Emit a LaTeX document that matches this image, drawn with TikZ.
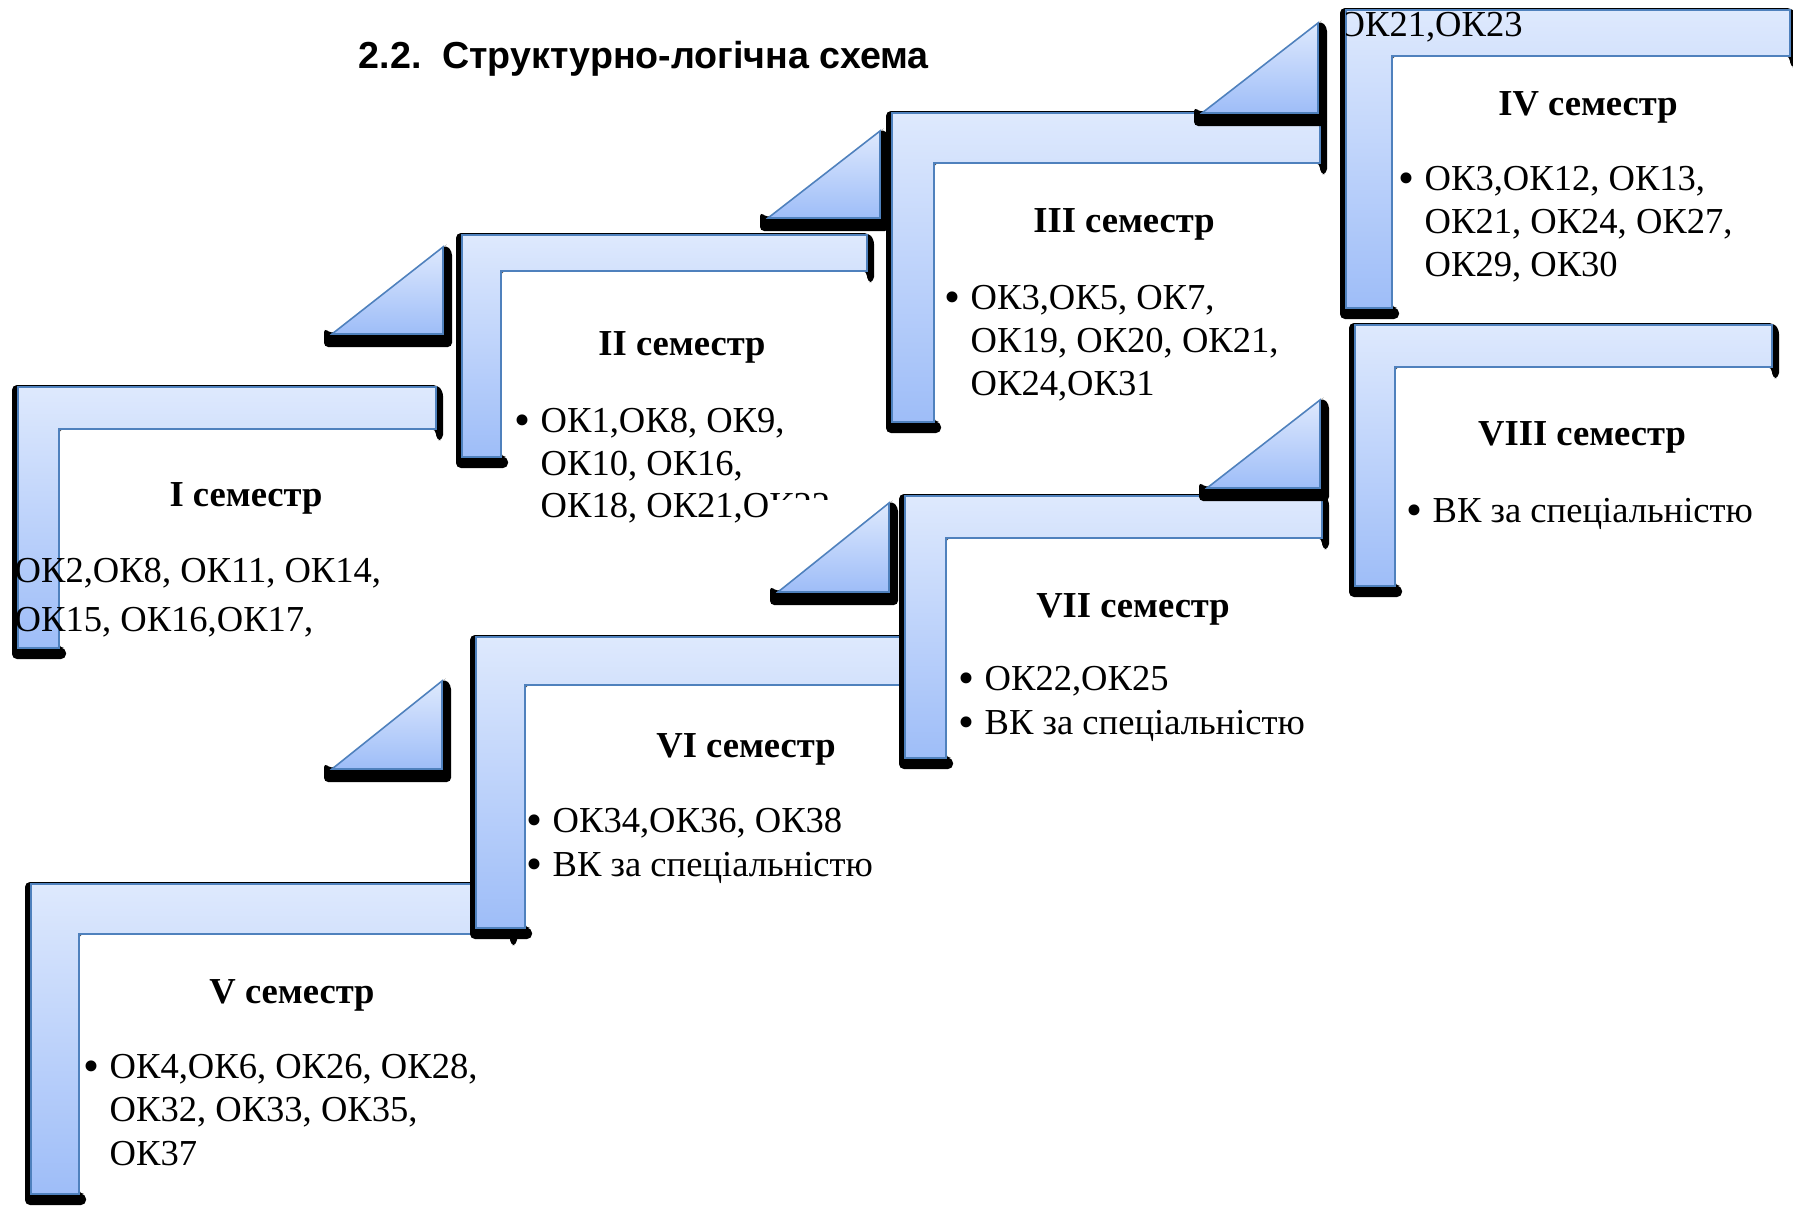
\documentclass[tikz,border=0pt]{standalone}
\usepackage{fontspec}
\usepackage{graphicx}
\setmainfont{Liberation Serif}
\newfontfamily\headfont{Liberation Sans}
\definecolor{ltop}{RGB}{222,233,253}
\definecolor{lbot}{RGB}{158,189,248}
\definecolor{edge}{RGB}{79,129,189}
\newcommand{\bodysize}{\fontsize{10.4pt}{12.3pt}\selectfont}
\newcommand{\bul}{\makebox[7.4pt][l]{\raisebox{-1.1pt}{\scalebox{1.25}{•}}}}
% L-shaped step: xl yt xr xi yi yb (pixel units, y down)
\newcommand{\stepshape}[6]{%
  \fill[black, rounded corners=1.4pt] ({#1-6},{#2-2}) -- ({#3+1},{#2-2}) -- ({#3+7},{#2+4}) -- ({#3+7},{#5+11}) -- (#3,{#5+11}) -- (#3,#5) -- (#4,#5) -- (#4,#6) -- ({#4+7},#6) -- ({#4+7},{#6+11}) -- ({#1-6},{#6+11}) -- cycle;
  \shadedraw[top color=ltop, bottom color=lbot, draw=edge, line width=0.45pt] (#1,#2) -- (#3,#2) -- (#3,#5) -- (#4,#5) -- (#4,#6) -- (#1,#6) -- cycle;
}
% triangle: xb yb (bottom-left)  xt yt (top-right)
\newcommand{\trishape}[4]{%
  \fill[black, rounded corners=1.2pt] ({#1-8},{#2-6}) -- (#1,#2) -- (#3,#4) -- ({#3+3},{#4-2}) -- ({#3+9},{#4+4}) -- ({#3+9},{#2+13}) -- ({#1-8},{#2+13}) -- cycle;
  \shadedraw[top color=ltop, bottom color=lbot, draw=edge, line width=0.45pt] (#1,#2) -- (#3,#4) -- (#3,#2) -- cycle;
}
\tikzset{
  txt/.style={inner sep=0pt, anchor=base west, font=\bodysize},
  ttl/.style={inner sep=0pt, anchor=base, font=\bodysize\bfseries},
}
\begin{document}
\begin{tikzpicture}[x=0.01cm,y=-0.01cm]
\useasboundingbox (0,0) rectangle (1793,1206);
\fill[white] (0,0) rectangle (1793,1206);

\node[inner sep=0pt, anchor=base west, font=\headfont\bfseries\fontsize{10.7pt}{13pt}\selectfont] (head) at (358,68) {2.2.~~Структурно-логічна схема};

% I semester
\stepshape{18}{387}{436}{59}{429}{648}
\trishape{332}{334}{443}{247}
\node[ttl] (s1) at (246,506) {I семестр};
\begin{scope}
\clip (17,540) rectangle (420,650);
\node[txt] (s1a) at (14,582) {ОК2,ОК8, ОК11, ОК14,};
\node[txt] (s1b) at (14,631) {ОК15, ОК16,ОК17,};
\end{scope}

% II semester
\stepshape{462}{235}{867}{501}{271}{457}
\trishape{768}{218}{880}{131}
\node[ttl] (s2) at (682,355) {II семестр};
\node[txt] (s2a) at (514,432) {\bul ОК1,ОК8, ОК9,};
\node[txt] (s2b) at (540,475) {ОК10, ОК16,};
\node[txt] (s2c) at (540,517) {ОК18, ОК21,ОК22};

% III semester
\stepshape{892}{113}{1320}{934}{163}{422}
\trishape{1202}{113}{1318}{23}
\node[ttl] (s3) at (1124,232) {III семестр};
\node[txt] (s3a) at (944,309) {\bul ОК3,ОК5, ОК7,};
\node[txt] (s3b) at (970,352) {ОК19, ОК20, ОК21,};
\node[txt] (s3c) at (970,395) {ОК24,ОК31};

% IV semester
\stepshape{1346}{10}{1790}{1392}{56}{308}
\node[ttl] (s4) at (1588,115) {IV семестр};
\node[txt] (s4a) at (1398,190) {\bul ОК3,ОК12, ОК13,};
\node[txt] (s4b) at (1424,233) {ОК21, ОК24, ОК27,};
\node[txt] (s4c) at (1424,276) {ОК29, ОК30};
\begin{scope}
\clip (1346,0) rectangle (1793,60);
\node[txt] (s4o) at (1338,36) {ОК21,ОК23};
\end{scope}

% V semester
\stepshape{31}{884}{510}{79}{934}{1194}
\node[ttl] (s5) at (292,1003) {V семестр};
\node[txt] (s5a) at (83,1078) {\bul ОК4,ОК6, ОК26, ОК28,};
\node[txt] (s5b) at (109,1121) {ОК32, ОК33, ОК35,};
\node[txt] (s5c) at (109,1165) {ОК37};

% VI semester
\trishape{332}{769}{442}{681}
\stepshape{476}{637}{906}{525}{685}{928}
\node[ttl] (s6) at (746,757) {VI семестр};
\node[txt] (s6a) at (526,832) {\bul ОК34,ОК36, ОК38};
\node[txt] (s6b) at (526,876) {\bul ВК за спеціальністю};

% VII semester
\fill[white] (770,500) rectangle (897,608);
\trishape{778}{592}{889}{503}
\stepshape{905}{496}{1322}{946}{538}{758}
\trishape{1207}{488}{1320}{400}
\node[ttl] (s7) at (1133,617) {VII семестр};
\node[txt] (s7a) at (958,690) {\bul ОК22,ОК25};
\node[txt] (s7b) at (958,734) {\bul ВК за спеціальністю};

% VIII semester
\stepshape{1355}{325}{1772}{1395}{367}{586}
\node[ttl] (s8) at (1582,445) {VIII семестр};
\node[txt] (s8a) at (1406,522) {\bul ВК за спеціальністю};
\end{tikzpicture}
\end{document}
